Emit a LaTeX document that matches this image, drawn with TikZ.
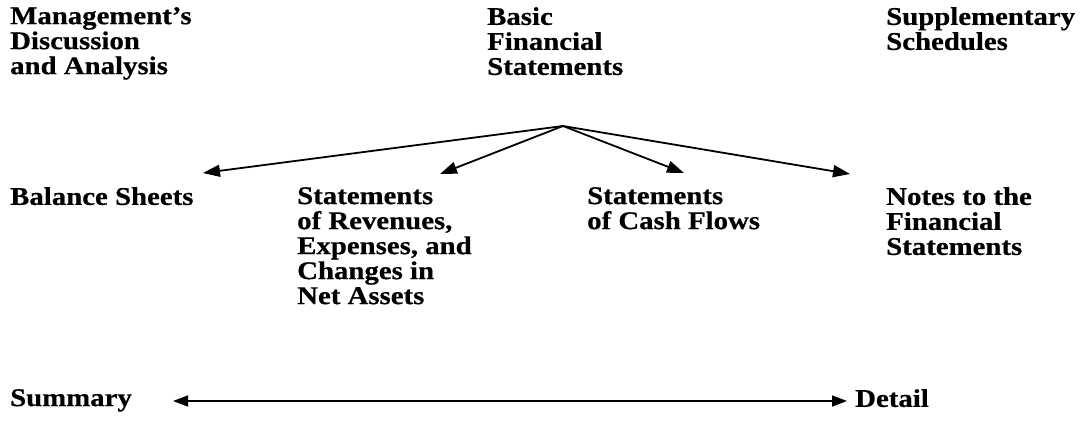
\documentclass[tikz,border=0pt]{standalone}
\usepackage{fontspec}
\setmainfont{Liberation Serif}[FakeStretch=1.13,FakeBold=0.5]
\usetikzlibrary{arrows.meta}
\begin{document}
\begin{tikzpicture}[x=1pt,y=-1pt,
  lbl/.style={anchor=north west,inner sep=0pt,align=left,
    font=\fontsize{25.5}{25}\selectfont\bfseries},
  conn/.style={line width=1.8pt,-{Triangle[length=17pt,width=12pt]}},
  span/.style={line width=1.6pt,{Triangle[length=15pt,width=11pt]}-{Triangle[length=15pt,width=11pt]}}]
\useasboundingbox (0,0) rectangle (1081,423);
\node[lbl] (mda) at (10,7) {Management's\\Discussion\\and Analysis};
\node[lbl] (bfs) at (487,7) {Basic\\Financial\\Statements};
\node[lbl] (ss) at (886,7) {Supplementary\\Schedules};
\node[lbl] (bs) at (10,187) {Balance Sheets};
\node[lbl] (sre) at (297,187) {Statements\\of Revenues,\\Expenses, and\\Changes in\\Net Assets};
\node[lbl] (scf) at (587,187) {Statements\\of Cash Flows};
\node[lbl] (notes) at (886,187) {Notes to the\\Financial\\Statements};
\node[lbl] (sum) at (10,389) {Summary};
\node[lbl] (det) at (855,389) {Detail};
\coordinate (apex) at (563,126);
\coordinate (tbs) at (203,173);
\coordinate (tsre) at (440,174);
\coordinate (tscf) at (684,173);
\coordinate (tnotes) at (850,174);
\coordinate (sl) at (173,401);
\coordinate (sr) at (847,401);
\draw[conn] (apex) -- (tbs);
\draw[conn] (apex) -- (tsre);
\draw[conn] (apex) -- (tscf);
\draw[conn] (apex) -- (tnotes);
\draw[span] (sl) -- (sr);
\end{tikzpicture}
\end{document}
